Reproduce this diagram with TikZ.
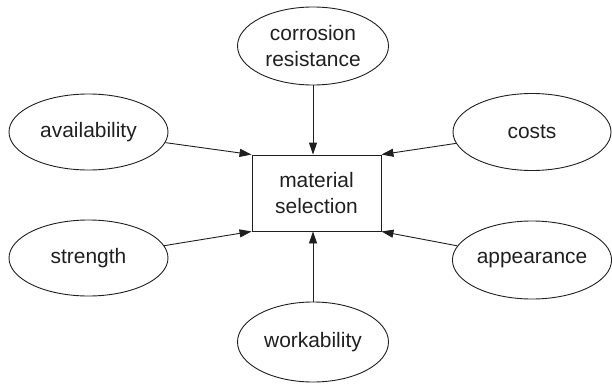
\documentclass[tikz,border=0pt]{standalone}
\usepackage{fontspec}
\setmainfont{Liberation Sans}
\usetikzlibrary{arrows.meta,shapes.geometric}

\begin{document}
\begin{tikzpicture}[x=1bp,y=1bp,
  font=\fontsize{21}{25.5}\selectfont,
  every node/.style={text=black!88},
  factor/.style={draw=black!88,line width=.9bp,ellipse,inner sep=1bp,align=center},
  goal/.style={draw=black!88,line width=.9bp,rectangle,minimum width=129bp,minimum height=76bp,align=center,inner sep=0pt},
  feed/.style={draw=black!88,line width=.9bp,-{Triangle[length=12bp,width=8bp]}}]
\useasboundingbox (0,0) rectangle (612,384);
\node[goal] (sel) at (316.5,191) {material\\selection};
\node[factor,minimum width=151bp,minimum height=78bp] (corr) at (313,338) {corrosion\\resistance};
\node[factor,minimum width=151bp,minimum height=80bp] (work) at (313,42) {workability};
\node[factor,minimum width=159bp,minimum height=76bp] (avail) at (88.5,252) {availability};
\node[factor,minimum width=159bp,minimum height=76bp] (str) at (88.5,126) {strength};
\node[factor,minimum width=158bp,minimum height=77bp] (cost) at (532,252) {costs};
\node[factor,minimum width=158bp,minimum height=78bp] (app) at (532,124) {appearance};
\draw[feed] (corr.south) -- (corr.south |- sel.north);
\draw[feed] (work.north) -- (work.north |- sel.south);
\draw[feed] (avail) -- (sel.north west);
\draw[feed] (str) -- (sel.south west);
\draw[feed] (cost) -- (sel.north east);
\draw[feed] (app) -- (sel.south east);
\end{tikzpicture}
\end{document}
